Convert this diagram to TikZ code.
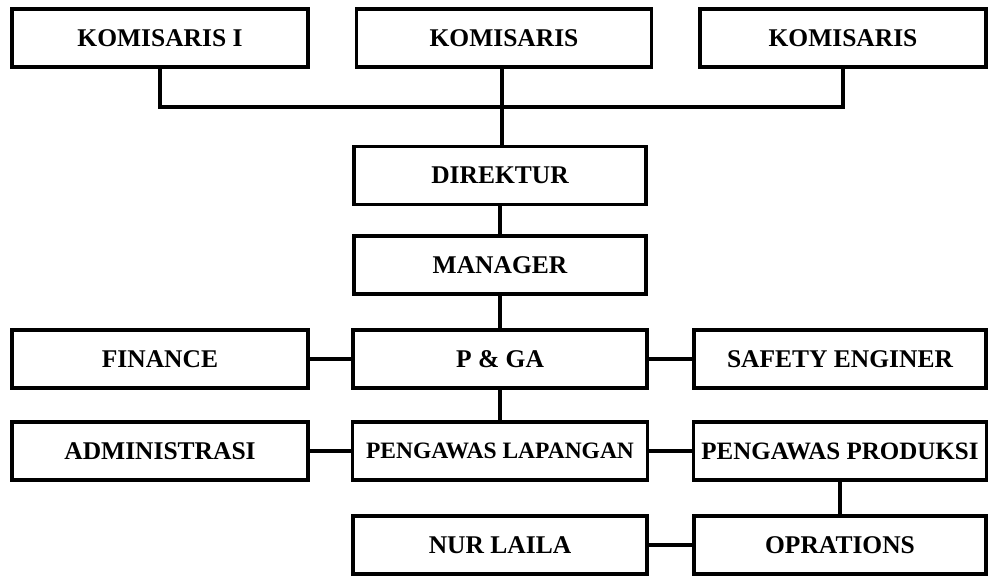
\documentclass[tikz,border=0pt]{standalone}
\usepackage{fontspec}
\setmainfont{Liberation Serif}
\usepackage{tikz}

\begin{document}
\begin{tikzpicture}[x=1pt, y=-1pt,
    unitbox/.style={draw, line width=3.5pt, rectangle, minimum height=58pt,
      inner sep=0pt, font=\fontsize{25.5}{30}\selectfont\bfseries},
    wire/.style={line width=3.5pt}]
  \useasboundingbox (0,0) rectangle (992,576);

  \node[unitbox, minimum width=296pt] (kom1) at (160,38) {KOMISARIS I};
  \node[unitbox, minimum width=295pt] (kom2) at (504,38) {KOMISARIS};
  \node[unitbox, minimum width=286pt] (kom3) at (843,38) {KOMISARIS};
  \node[unitbox, minimum width=292pt] (dir) at (500,175.5) {DIREKTUR};
  \node[unitbox, minimum width=292pt] (mgr) at (500,265) {MANAGER};
  \node[unitbox, minimum width=296pt] (fin) at (160,359) {FINANCE};
  \node[unitbox, minimum width=294pt] (pga) at (500,359) {P \& GA};
  \node[unitbox, minimum width=292pt] (safe) at (840,359) {SAFETY ENGINER};
  \node[unitbox, minimum width=296pt] (adm) at (160,451) {ADMINISTRASI};
  \node[unitbox, minimum width=295pt, font=\fontsize{23.5}{28}\selectfont\bfseries] (lap) at (500,451) {PENGAWAS LAPANGAN};
  \node[unitbox, minimum width=293pt, font=\fontsize{25}{30}\selectfont\bfseries] (prod) at (840,451) {PENGAWAS PRODUKSI};
  \node[unitbox, minimum width=294pt] (nur) at (500,545) {NUR LAILA};
  \node[unitbox, minimum width=292pt] (opr) at (840,545) {OPRATIONS};

  \coordinate (bus) at (502,107);
  \draw[wire] (kom1.south) |- (bus) -| (kom3.south);
  \draw[wire] (bus |- kom2.south) -- (bus |- dir.north);
  \draw[wire] (dir) -- (mgr);
  \draw[wire] (mgr) -- (pga);
  \draw[wire] (fin) -- (pga);
  \draw[wire] (pga) -- (safe);
  \draw[wire] (pga) -- (lap);
  \draw[wire] (adm) -- (lap);
  \draw[wire] (lap) -- (prod);
  \draw[wire] (prod) -- (opr);
  \draw[wire] (nur) -- (opr);
\end{tikzpicture}
\end{document}
